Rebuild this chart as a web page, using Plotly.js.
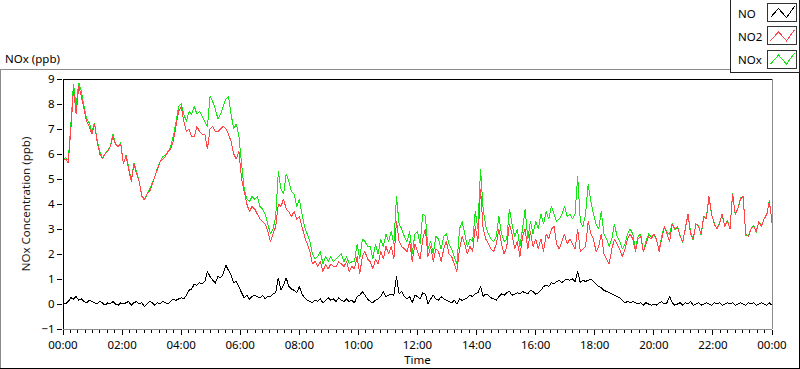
<!DOCTYPE html>
<html>
<head>
<meta charset="utf-8">
<script src="https://cdn.plot.ly/plotly-3.0.1.min.js"></script>
<style>
  html, body { margin: 0; padding: 0; background: #ffffff; }
  #chart { width: 800px; height: 369px; }
  #chart .scatterlayer path.js-line { shape-rendering: crispEdges; }
  #chart .layer-above path, #chart .xtick, #chart .ytick { shape-rendering: crispEdges; }
</style>
</head>
<body>
<div id="chart"></div>
<script>
// ---------------- data ----------------
const SERIES_NAMES = ['NO', 'NO2', 'NOx'];
const SAMPLE_STEP_MIN = 1440 / 270;          // waveform dt (minutes)
const TICK_MINUTES = [0, 120, 240, 360, 480, 600, 720, 840, 960, 1080, 1200, 1320, 1440];
const TICK_LABELS = ['00:00', '02:00', '04:00', '06:00', '08:00', '10:00', '12:00',
                     '14:00', '16:00', '18:00', '20:00', '22:00', '00:00'];
const Y_TICKS = [-1, 0, 1, 2, 3, 4, 5, 6, 7, 8, 9];

const NO2 = [
  // 00:00 - 04:00
  5.75,5.8,5.65,7.0,8.6,7.6,8.7,8.3,7.8,7.3,7.1,6.8,7.2,6.5,6.0,5.8,6.0,6.1,6.3,6.7,6.4,6.3,6.4,5.6,5.9,
  5.4,4.9,5.6,5.2,4.9,4.3,4.2,4.4,4.5,4.8,5.1,5.4,5.7,5.8,5.9,6.1,6.2,6.5,7.1,7.7,
  // 04:00 - 08:00
  7.9,7.3,6.9,7.0,6.7,6.7,7.1,6.9,6.8,6.8,6.2,7.0,7.1,6.9,6.9,7.0,7.1,7.0,6.8,6.5,6.0,5.8,6.1,5.0,4.5,
  4.0,3.7,3.9,3.8,3.6,3.4,3.3,3.2,2.9,2.5,2.8,3.1,4.0,3.9,4.2,3.8,3.7,3.5,3.7,3.4,
  // 08:00 - 12:00
  3.5,3.1,2.7,2.4,2.1,1.6,1.7,1.5,1.7,1.3,1.6,1.4,1.6,1.5,1.5,1.7,1.6,1.5,1.7,1.3,1.5,1.4,1.9,1.2,1.9,
  2.1,1.8,1.7,1.4,1.8,1.6,2.1,1.8,2.3,2.0,2.3,1.8,3.3,2.5,2.3,2.2,2.1,2.5,1.7,2.4,
  // 12:00 - 16:00
  2.1,1.8,2.6,3.0,1.9,2.3,1.7,2.2,2.1,1.7,2.2,2.5,2.0,1.9,1.6,1.3,2.2,2.7,2.4,2.0,2.3,2.1,3.1,2.5,4.6,
  3.0,2.6,2.4,2.2,2.1,2.4,3.0,2.4,2.0,2.3,3.2,2.8,2.2,2.5,1.9,2.7,3.0,2.2,2.9,2.3,
  // 16:00 - 20:00
  2.6,2.2,2.6,2.1,2.8,2.6,3.0,3.1,2.4,2.2,2.5,2.8,2.4,2.6,2.4,2.2,3.0,2.1,2.2,2.3,3.3,2.8,2.6,2.1,2.3,
  2.8,2.0,1.8,1.6,2.2,2.6,2.4,2.2,1.9,2.2,2.6,2.8,2.6,2.1,2.6,2.7,2.1,2.4,2.7,2.6,
  // 20:00 - 24:00
  2.8,2.6,2.1,2.6,3.1,2.8,2.5,3.2,3.0,3.1,2.7,2.5,3.0,3.6,2.8,2.6,3.2,3.1,2.8,3.5,3.4,4.3,3.6,3.2,3.0,
  3.2,3.6,3.1,3.3,3.0,4.4,3.6,3.8,4.2,4.3,2.8,2.7,3.0,3.1,2.9,3.3,3.1,3.4,3.6,4.1,3.3
];

const NOX = [
  5.8,5.85,5.75,7.2,8.8,7.9,8.85,8.5,7.9,7.4,7.25,6.9,7.25,6.55,6.1,5.85,6.0,6.15,6.3,6.8,6.4,6.3,6.45,5.6,5.95,
  5.5,4.9,5.65,5.3,4.9,4.35,4.15,4.4,4.6,4.85,5.1,5.45,5.7,5.9,5.95,6.1,6.3,6.7,7.25,7.9,
  8.0,7.6,7.3,7.7,7.6,7.9,7.6,7.7,7.5,7.3,7.1,8.3,8.1,7.8,7.4,7.6,7.9,8.2,8.3,7.6,7.0,7.2,6.7,5.6,4.6,
  4.2,4.1,4.3,4.2,4.3,3.9,3.8,3.6,3.2,2.8,3.0,3.5,5.3,4.6,4.4,5.2,4.9,4.5,4.4,3.9,
  4.2,3.6,3.1,2.8,2.5,2.0,1.8,1.9,2.1,1.6,1.9,1.7,1.9,1.7,1.8,1.9,2.0,1.7,1.9,1.6,1.7,1.7,2.4,1.8,2.6,
  2.5,2.3,2.3,1.8,2.4,2.0,2.6,2.3,2.8,2.5,2.9,2.4,4.3,3.2,3.0,2.7,2.5,2.9,2.0,2.8,
  2.9,2.4,3.6,3.5,2.2,2.5,2.0,2.7,2.6,2.2,2.7,2.8,2.4,2.2,1.9,1.6,3.0,3.3,2.8,2.3,2.6,2.5,3.7,3.0,5.4,
  3.8,3.1,2.8,2.6,2.5,2.7,3.5,2.8,2.5,2.6,3.8,3.2,2.7,3.0,2.3,3.0,3.8,2.6,3.3,2.8,
  3.3,3.0,3.6,3.2,3.7,3.4,3.9,3.6,3.3,3.4,3.6,3.9,3.5,3.6,3.4,3.6,5.1,3.3,3.1,3.6,4.8,4.1,3.6,3.2,3.0,
  3.7,2.8,2.6,2.3,2.6,3.2,2.7,2.5,2.2,2.4,2.8,3.0,2.8,2.2,2.7,2.8,2.1,2.5,2.8,2.7,
  2.8,2.55,2.15,2.7,3.1,2.85,2.8,3.25,2.95,3.1,2.75,2.45,3.05,3.6,2.9,2.55,3.2,3.15,2.75,3.5,3.45,4.3,3.55,3.25,3.0,
  3.25,3.55,3.1,3.35,3.0,4.45,3.55,3.8,4.25,4.3,2.75,2.75,3.0,3.15,2.85,3.3,3.15,3.4,3.55,4.15,3.25
];

const NO = [
  0.05,0.0,0.1,0.25,0.2,0.3,0.15,0.2,0.1,0.05,0.15,0.1,0.05,0.0,0.1,0.05,-0.05,0.05,0.0,0.1,0.0,-0.05,0.05,0.0,0.05,
  0.1,-0.05,0.05,0.1,0.0,0.05,-0.1,0.0,0.1,0.05,-0.05,0.05,0.0,0.1,0.05,0.0,0.1,0.2,0.15,0.2,
  0.25,0.2,0.35,0.55,0.6,0.8,0.75,0.85,0.8,0.9,1.3,1.1,0.95,0.85,1.1,1.05,1.2,1.55,1.35,1.15,0.85,0.9,0.7,0.45,0.25,
  0.35,0.2,0.3,0.35,0.3,0.25,0.35,0.2,0.3,0.3,0.4,0.45,1.05,0.55,0.75,1.05,0.7,0.6,0.55,0.45,
  0.7,0.4,0.25,0.15,0.1,0.05,0.15,0.1,0.2,0.05,0.15,0.25,0.15,0.2,0.1,0.25,0.15,0.1,0.2,0.1,0.15,0.05,0.3,0.35,0.5,
  0.35,0.2,0.1,0.05,0.15,0.2,0.3,0.5,0.3,0.35,0.4,0.35,1.1,0.4,0.5,0.3,0.2,0.3,0.05,0.35,
  0.3,0.2,0.45,0.4,0.0,0.2,0.35,0.2,0.15,0.3,0.2,0.15,0.1,0.05,0.15,0.0,0.2,0.15,0.2,0.25,0.35,0.3,0.4,0.45,0.7,
  0.3,0.4,0.35,0.25,0.2,0.15,0.3,0.4,0.35,0.45,0.5,0.35,0.4,0.45,0.4,0.5,0.45,0.4,0.55,0.5,
  0.4,0.45,0.55,0.7,0.75,0.7,0.85,0.8,0.9,0.95,0.85,0.95,1.0,0.95,1.0,0.9,1.3,0.85,0.95,0.9,0.95,1.0,0.9,0.8,0.7,
  0.65,0.55,0.5,0.45,0.4,0.35,0.3,0.25,0.15,0.05,0.1,0.05,0.1,0.05,0.0,0.05,-0.05,0.05,0.0,-0.05,
  0.0,-0.05,0.05,0.1,0.0,0.05,0.3,0.05,-0.05,0.0,0.05,-0.05,0.05,0.0,0.1,-0.05,0.0,0.05,-0.05,0.0,0.05,0.0,-0.05,0.05,0.0,
  0.05,-0.05,0.0,0.05,0.0,0.05,-0.05,0.0,0.05,0.0,-0.05,0.05,0.0,0.05,-0.05,0.0,0.05,0.0,-0.05,0.05,-0.05
];

// ---------------- styles ----------------
const COLORS = { NO: '#000000', NO2: '#ff4545', NOx: '#14e614' };
const FONT = 'Segoe UI, "Noto Sans", sans-serif';
const L = 63, R = 28, T = 79, B = 40;
const W = 800 - L - R, H = 369 - T - B;
const px = x => (x - L) / W;           // page pixel -> paper x
const py = y => 1 - (y - T) / H;       // page pixel -> paper y

const minutes = NO2.map((_, i) => i * SAMPLE_STEP_MIN);

const traces = [
  { x: minutes, y: NOX, name: SERIES_NAMES[2], type: 'scatter', mode: 'lines',
    line: { color: COLORS.NOx, width: 1, simplify: false }, hoverinfo: 'skip' },
  { x: minutes, y: NO2, name: SERIES_NAMES[1], type: 'scatter', mode: 'lines',
    line: { color: COLORS.NO2, width: 1, simplify: false }, hoverinfo: 'skip' },
  { x: minutes, y: NO, name: SERIES_NAMES[0], type: 'scatter', mode: 'lines',
    line: { color: COLORS.NO, width: 1, simplify: false }, hoverinfo: 'skip' }
];

// ---------- decorations: frames and a LabVIEW-style legend ----------
const line = (x0, y0, x1, y1, color) => ({
  type: 'line', xref: 'paper', yref: 'paper',
  x0: px(x0), y0: py(y0), x1: px(x1), y1: py(y1),
  line: { color: color, width: 1 }
});
const shapes = [
  // outer panel frame
  line(0, 69.5, 730, 69.5, '#8c8c8c'),
  line(0.5, 69.5, 0.5, 369, '#8c8c8c'),
  line(0, 368.5, 800, 368.5, '#000000'),
  line(799.5, 72.5, 799.5, 369, '#000000'),
  // plot area border (sunken look)
  line(L, T, L + W, T, '#000000'),
  line(L, T, L, T + H, '#000000'),
  line(L + W, T, L + W, T + H, '#8c8c8c'),
  line(L, T + H, L + W, T + H, '#8c8c8c'),
  // legend box
  { type: 'rect', xref: 'paper', yref: 'paper', x0: px(730.5), x1: px(799.5), y0: py(72.5), y1: py(-1),
    line: { color: '#222222', width: 1 }, fillcolor: 'rgba(0,0,0,0)' }
];
const annotations = [];
const legendOrder = ['NO', 'NO2', 'NOx'];
legendOrder.forEach((nm, k) => {
  const top = 3.5 + k * 23.3;
  const bx0 = 767.5, bx1 = 796.5, by0 = top, by1 = top + 18;
  shapes.push({ type: 'rect', xref: 'paper', yref: 'paper', x0: px(bx0), x1: px(bx1), y0: py(by1), y1: py(by0),
    line: { color: '#333333', width: 1 }, fillcolor: '#ffffff' });
  const pts = [[bx0 + 3, by0 + 14], [bx0 + 11, by0 + 5], [bx0 + 19, by0 + 14], [bx0 + 27, by0 + 3]];
  const path = pts.map((p, i) => (i ? 'L' : 'M') + px(p[0]) + ',' + py(p[1])).join(' ');
  shapes.push({ type: 'path', xref: 'paper', yref: 'paper', path: path,
    line: { color: COLORS[nm], width: 1 } });
  annotations.push({ xref: 'paper', yref: 'paper', x: px(736), y: py(top + 9.5),
    xanchor: 'left', yanchor: 'middle', showarrow: false, text: SERIES_NAMES[k],
    font: { family: FONT, size: 11.5, color: '#000000' } });
});

const layout = {
  width: 800, height: 369,
  margin: { l: L, r: R, t: T, b: B, pad: 0 },
  paper_bgcolor: '#ffffff', plot_bgcolor: '#ffffff',
  showlegend: false,
  font: { family: FONT, size: 11.5, color: '#000000' },
  title: { text: 'NOx (ppb)', xref: 'container', yref: 'container',
           x: 5 / 800, xanchor: 'left', y: 1 - 58.5 / 369, yanchor: 'middle',
           font: { family: FONT, size: 11.5, color: '#000000' } },
  xaxis: {
    range: [0, 1440], tickmode: 'array', tickvals: TICK_MINUTES, ticktext: TICK_LABELS,
    ticks: 'outside', ticklen: 5, tickcolor: '#000000', tickwidth: 1,
    minor: { tickmode: 'linear', tick0: 0, dtick: 15, ticks: 'outside', ticklen: 3, tickcolor: '#000000', showgrid: false },
    showgrid: false, zeroline: false, showline: false, fixedrange: true,
    tickfont: { family: FONT, size: 11.5, color: '#000000' },
    title: { text: 'Time', standoff: 3, font: { family: FONT, size: 11.5, color: '#000000' } }
  },
  yaxis: {
    range: [-1, 9], tickmode: 'array', tickvals: Y_TICKS,
    ticks: 'outside', ticklen: 5, tickcolor: '#000000', tickwidth: 1,
    showgrid: false, zeroline: false, showline: false, fixedrange: true,
    tickfont: { family: FONT, size: 11.5, color: '#000000' },
    title: { text: 'NOx Concentration (ppb)', standoff: 8, font: { family: FONT, size: 11.5, color: '#1a1a1a' } }
  },
  shapes: shapes,
  annotations: annotations
};

Plotly.newPlot('chart', traces, layout, { staticPlot: true, displayModeBar: false });
</script>
</body>
</html>
